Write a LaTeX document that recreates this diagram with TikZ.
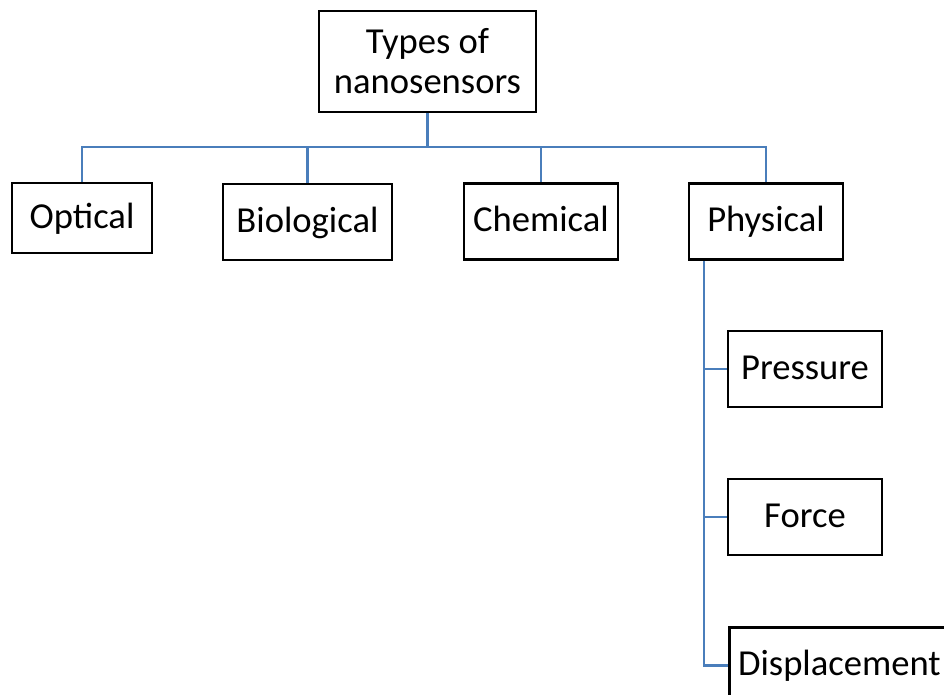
\documentclass[tikz,border=0pt]{standalone}
\usepackage{fontspec}
\setmainfont{Carlito}
\usepackage{xcolor}
\definecolor{linkblue}{RGB}{74,126,187}
\tikzset{box/.style={draw,line width=2.8pt,inner sep=0pt,align=center,font=\fontsize{36.6}{40}\selectfont},
	label box/.style={box,text height=27.5pt,text depth=7.3pt},
	link/.style={draw=linkblue,line width=2.8pt}}

\begin{document}
\begin{tikzpicture}[x=1pt,y=-1pt]
			\useasboundingbox (0,0) rectangle (944,695);
			\clip (0,0) rectangle (944,695);
			\def\h{76}
			\node[box,minimum width=217,minimum height=101] (types) at (427.5,61.5) {Types of\\nanosensors};
			\node[label box,minimum width=140,minimum height=70] (optical) at (82,218) {Optical};
			\node[label box,minimum width=169,minimum height=\h] (biological) at (307.5,222) {Biological};
			\node[label box,minimum width=154,minimum height=\h] (chemical) at (541,221.5) {Chemical};
			\node[label box,minimum width=154,minimum height=\h] (physical) at (766,221.5) {Physical};
			\node[label box,minimum width=154,minimum height=\h] (pressure) at (805,369) {Pressure};
			\node[label box,minimum width=154,minimum height=\h] (force) at (805,517) {Force};
			\node[label box,minimum width=220,minimum height=\h,anchor=north west] (displacement) at (728,626) {Displacement};
			\coordinate (bus) at (427.5,147);
			\coordinate (spine) at (704,261);
			% Branches
			\draw[link] (types.south) -- (bus);
			\foreach \n in {optical,biological,chemical,physical}
				\draw[link] (\n.north) |- (bus);
			\foreach \n in {pressure,force,displacement}
				\draw[link] (spine) |- (\n.west);
		\end{tikzpicture}
\end{document}
